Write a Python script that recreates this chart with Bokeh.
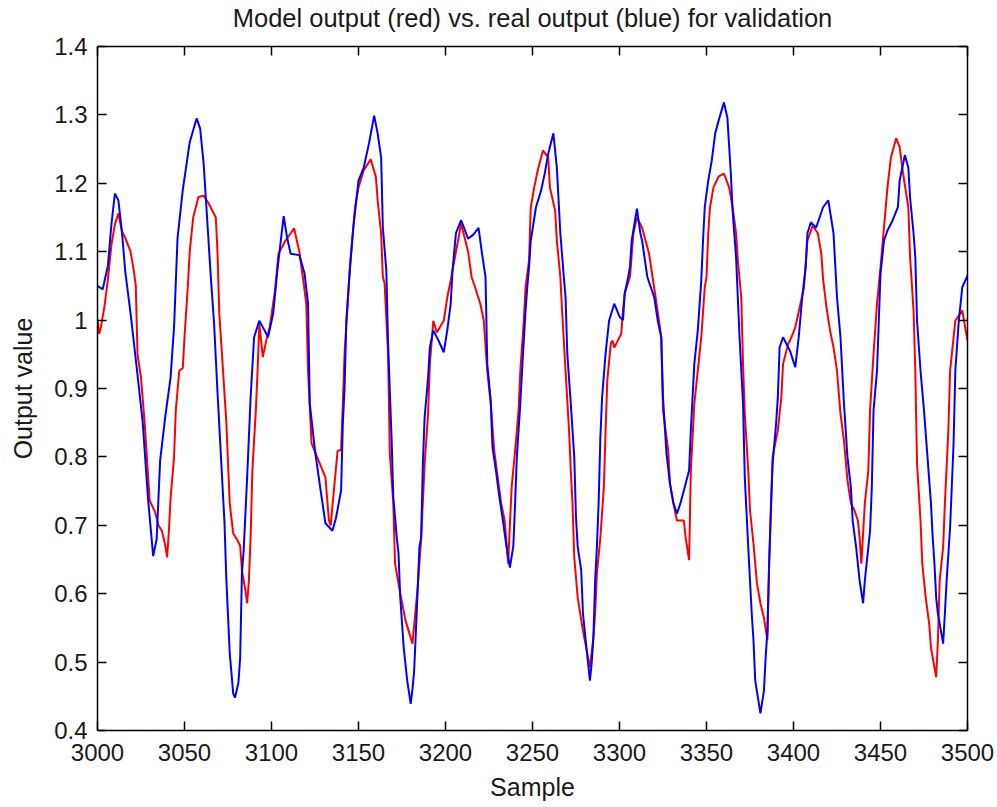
from bokeh.plotting import figure
from bokeh.models import FixedTicker, LinearAxis, Range1d, CustomLabelingPolicy
from bokeh.embed import file_html
from bokeh.resources import INLINE

# ---- data ----
real_samples = [3000, 3003, 3006, 3008, 3010, 3012, 3014, 3016, 3019, 3023, 3026, 3029, 3032, 3034, 3036, 3039, 3042, 3044, 3046, 3049, 3053, 3057, 3059, 3061, 3065, 3067, 3069, 3073, 3074, 3076, 3078, 3079, 3081, 3082, 3083, 3084, 3086, 3088, 3090, 3093, 3096, 3098, 3101, 3103, 3104, 3107, 3109, 3111, 3116, 3119, 3121, 3122, 3125, 3128, 3131, 3135, 3137, 3140, 3141, 3142, 3143, 3145, 3147, 3150, 3153, 3156, 3159, 3161, 3163, 3164, 3166, 3167, 3169, 3170, 3172, 3173, 3174, 3176, 3178, 3180, 3181, 3182, 3183, 3184, 3185, 3186, 3187, 3188, 3190, 3191, 3193, 3196, 3199, 3201, 3203, 3204, 3206, 3209, 3213, 3216, 3219, 3221, 3223, 3224, 3226, 3227, 3229, 3231, 3233, 3235, 3237, 3239, 3240, 3241, 3243, 3244, 3246, 3247, 3248, 3249, 3252, 3255, 3257, 3259, 3262, 3264, 3266, 3268, 3269, 3270, 3272, 3274, 3275, 3276, 3278, 3279, 3281, 3283, 3284, 3285, 3286, 3287, 3288, 3289, 3290, 3292, 3294, 3297, 3300, 3302, 3303, 3305, 3306, 3307, 3310, 3312, 3313, 3316, 3318, 3320, 3322, 3324, 3325, 3327, 3329, 3331, 3333, 3335, 3337, 3340, 3341, 3343, 3345, 3347, 3348, 3349, 3351, 3353, 3355, 3357, 3360, 3362, 3364, 3365, 3367, 3368, 3369, 3371, 3372, 3374, 3375, 3376, 3377, 3378, 3381, 3383, 3384, 3385, 3386, 3387, 3388, 3390, 3391, 3392, 3394, 3398, 3401, 3403, 3405, 3407, 3408, 3410, 3413, 3417, 3420, 3423, 3425, 3427, 3429, 3431, 3433, 3434, 3436, 3438, 3440, 3441, 3442, 3444, 3445, 3446, 3448, 3450, 3452, 3454, 3457, 3460, 3461, 3464, 3466, 3467, 3469, 3470, 3471, 3473, 3475, 3477, 3479, 3480, 3481, 3482, 3483, 3486, 3487, 3488, 3490, 3492, 3493, 3495, 3497, 3500]
real_values = [1.05, 1.045, 1.08, 1.14, 1.185, 1.175, 1.13, 1.07, 1.01, 0.92, 0.85, 0.74, 0.655, 0.68, 0.795, 0.86, 0.916, 0.99, 1.12, 1.19, 1.26, 1.295, 1.28, 1.229, 1.068, 0.995, 0.893, 0.703, 0.624, 0.513, 0.454, 0.448, 0.47, 0.507, 0.63, 0.663, 0.77, 0.887, 0.975, 0.999, 0.985, 0.975, 1.01, 1.063, 1.087, 1.152, 1.12, 1.097, 1.095, 1.068, 1.024, 0.878, 0.809, 0.755, 0.703, 0.692, 0.71, 0.751, 0.849, 0.901, 0.999, 1.072, 1.135, 1.204, 1.223, 1.258, 1.299, 1.273, 1.238, 1.135, 1.072, 0.966, 0.828, 0.741, 0.682, 0.659, 0.594, 0.521, 0.473, 0.439, 0.46, 0.488, 0.546, 0.605, 0.668, 0.682, 0.79, 0.858, 0.916, 0.96, 0.985, 0.97, 0.953, 0.985, 1.024, 1.072, 1.127, 1.146, 1.119, 1.125, 1.135, 1.097, 1.063, 0.936, 0.882, 0.814, 0.78, 0.741, 0.707, 0.67, 0.638, 0.67, 0.732, 0.80, 0.878, 0.926, 1.014, 1.048, 1.077, 1.116, 1.165, 1.19, 1.214, 1.243, 1.273, 1.223, 1.127, 1.063, 1.033, 0.951, 0.878, 0.80, 0.711, 0.668, 0.634, 0.571, 0.521, 0.473, 0.498, 0.536, 0.619, 0.668, 0.732, 0.828, 0.887, 0.951, 0.999, 1.024, 1.005, 1.0, 1.039, 1.063, 1.077, 1.116, 1.163, 1.127, 1.116, 1.063, 1.048, 1.033, 0.999, 0.975, 0.887, 0.805, 0.761, 0.732, 0.717, 0.732, 0.751, 0.78, 0.839, 0.936, 0.985, 1.058, 1.116, 1.165, 1.204, 1.233, 1.273, 1.292, 1.318, 1.296, 1.214, 1.16, 1.092, 1.033, 0.975, 0.878, 0.77, 0.668, 0.619, 0.571, 0.532, 0.473, 0.425, 0.458, 0.507, 0.546, 0.644, 0.722, 0.79, 0.849, 0.887, 0.96, 0.975, 0.955, 0.931, 0.975, 1.033, 1.077, 1.127, 1.143, 1.135, 1.165, 1.175, 1.127, 1.033, 0.975, 0.878, 0.80, 0.755, 0.707, 0.668, 0.619, 0.586, 0.619, 0.644, 0.692, 0.755, 0.868, 0.926, 1.068, 1.116, 1.131, 1.146, 1.165, 1.204, 1.241, 1.223, 1.179, 1.127, 1.092, 0.999, 0.926, 0.868, 0.80, 0.732, 0.682, 0.644, 0.594, 0.571, 0.527, 0.571, 0.619, 0.697, 0.82, 0.926, 0.999, 1.048, 1.065]

model_samples = [3000, 3001, 3002, 3004, 3006, 3008, 3010, 3012, 3014, 3016, 3019, 3021, 3022, 3023, 3025, 3027, 3030, 3033, 3035, 3037, 3039, 3040, 3041, 3042, 3044, 3045, 3047, 3049, 3050, 3052, 3053, 3055, 3058, 3061, 3064, 3068, 3069, 3070, 3074, 3076, 3078, 3080, 3082, 3083, 3085, 3086, 3087, 3088, 3089, 3091, 3092, 3093, 3095, 3097, 3099, 3102, 3104, 3108, 3113, 3116, 3118, 3120, 3121, 3123, 3127, 3131, 3133, 3134, 3136, 3138, 3140, 3141, 3142, 3144, 3145, 3148, 3150, 3153, 3157, 3160, 3161, 3163, 3164, 3165, 3167, 3168, 3170, 3171, 3174, 3177, 3181, 3184, 3186, 3188, 3190, 3191, 3193, 3195, 3199, 3201, 3203, 3206, 3209, 3213, 3215, 3217, 3220, 3222, 3224, 3226, 3228, 3230, 3232, 3234, 3236, 3238, 3240, 3242, 3243, 3245, 3246, 3248, 3249, 3251, 3253, 3256, 3259, 3260, 3263, 3264, 3266, 3267, 3269, 3271, 3272, 3273, 3274, 3276, 3279, 3283, 3285, 3286, 3287, 3289, 3291, 3292, 3293, 3295, 3296, 3297, 3299, 3301, 3302, 3303, 3306, 3308, 3310, 3313, 3315, 3317, 3319, 3321, 3324, 3325, 3328, 3329, 3331, 3333, 3337, 3338, 3340, 3341, 3343, 3345, 3347, 3349, 3350, 3351, 3352, 3354, 3357, 3360, 3363, 3365, 3367, 3368, 3370, 3371, 3372, 3374, 3375, 3377, 3378, 3379, 3381, 3383, 3385, 3386, 3388, 3391, 3393, 3394, 3397, 3398, 3401, 3404, 3406, 3408, 3411, 3414, 3416, 3417, 3419, 3421, 3423, 3425, 3427, 3429, 3431, 3433, 3435, 3437, 3438, 3439, 3441, 3443, 3444, 3446, 3448, 3450, 3452, 3454, 3456, 3459, 3461, 3463, 3466, 3467, 3469, 3470, 3471, 3473, 3474, 3476, 3478, 3479, 3482, 3483, 3484, 3486, 3487, 3489, 3490, 3493, 3497, 3500]
model_values = [1.0, 0.98, 0.99, 1.02, 1.06, 1.11, 1.14, 1.156, 1.13, 1.12, 1.10, 1.07, 1.05, 0.95, 0.916, 0.853, 0.736, 0.72, 0.70, 0.692, 0.67, 0.653, 0.69, 0.74, 0.80, 0.868, 0.926, 0.93, 0.975, 1.053, 1.10, 1.15, 1.18, 1.182, 1.17, 1.15, 1.097, 1.01, 0.853, 0.732, 0.688, 0.68, 0.67, 0.634, 0.605, 0.586, 0.619, 0.682, 0.78, 0.868, 0.926, 0.995, 0.946, 0.97, 0.99, 1.043, 1.097, 1.116, 1.134, 1.10, 1.063, 1.024, 0.926, 0.82, 0.795, 0.77, 0.707, 0.70, 0.755, 0.809, 0.81, 0.878, 0.951, 1.033, 1.077, 1.165, 1.194, 1.219, 1.235, 1.209, 1.175, 1.127, 1.063, 1.054, 0.951, 0.805, 0.732, 0.644, 0.60, 0.561, 0.527, 0.609, 0.68, 0.79, 0.863, 0.936, 0.999, 0.982, 0.999, 1.033, 1.058, 1.10, 1.141, 1.10, 1.063, 1.048, 1.024, 0.999, 0.926, 0.878, 0.809, 0.77, 0.732, 0.707, 0.644, 0.755, 0.809, 0.868, 0.926, 0.999, 1.048, 1.087, 1.165, 1.194, 1.219, 1.248, 1.238, 1.194, 1.16, 1.116, 1.063, 1.014, 0.926, 0.839, 0.78, 0.732, 0.653, 0.594, 0.546, 0.492, 0.536, 0.571, 0.63, 0.682, 0.755, 0.839, 0.912, 0.966, 0.97, 0.96, 0.97, 0.98, 1.014, 1.039, 1.063, 1.127, 1.15, 1.135, 1.116, 1.097, 1.063, 1.029, 0.975, 0.868, 0.809, 0.761, 0.732, 0.707, 0.707, 0.682, 0.649, 0.78, 0.878, 0.926, 0.975, 1.048, 1.063, 1.127, 1.165, 1.194, 1.21, 1.214, 1.194, 1.165, 1.127, 1.087, 1.033, 0.936, 0.863, 0.78, 0.722, 0.673, 0.644, 0.615, 0.586, 0.565, 0.532, 0.644, 0.80, 0.839, 0.887, 0.936, 0.966, 0.97, 0.989, 1.024, 1.048, 1.116, 1.138, 1.127, 1.097, 1.06, 1.018, 0.985, 0.96, 0.926, 0.863, 0.824, 0.766, 0.732, 0.722, 0.707, 0.682, 0.644, 0.732, 0.78, 0.868, 0.951, 1.024, 1.077, 1.135, 1.194, 1.238, 1.266, 1.253, 1.214, 1.165, 1.092, 1.014, 0.926, 0.79, 0.707, 0.644, 0.594, 0.556, 0.521, 0.478, 0.532, 0.619, 0.668, 0.732, 0.839, 0.926, 0.999, 1.014, 0.97]

x_ticks = [3000, 3050, 3100, 3150, 3200, 3250, 3300, 3350, 3400, 3450, 3500]
x_tick_labels = ["3000", "3050", "3100", "3150", "3200", "3250", "3300", "3350", "3400", "3450", "3500"]
y_ticks = [0.4, 0.5, 0.6, 0.7, 0.8, 0.9, 1.0, 1.1, 1.2, 1.3, 1.4]
y_tick_labels = ["0.4", "0.5", "0.6", "0.7", "0.8", "0.9", "1", "1.1", "1.2", "1.3", "1.4"]

title_text = "Model output (red) vs. real output (blue) for validation"
x_label = "Sample"
y_label = "Output value"

FONT = "Liberation Sans"
TXT = "#1a1a1a"

p = figure(width=997, height=807, output_backend="svg", toolbar_location=None,
           x_range=Range1d(3000, 3500), y_range=Range1d(0.4, 1.4),
           min_border_left=97, min_border_right=30, min_border_top=46, min_border_bottom=77,
           x_axis_label=x_label, y_axis_label=y_label)

p.background_fill_color = "white"
p.border_fill_color = "white"
p.outline_line_color = None
p.xgrid.visible = False
p.ygrid.visible = False

p.line(model_samples, model_values, line_color="#ff0000", line_width=2)
p.line(real_samples, real_values, line_color="#0000ff", line_width=2)

def style_axis(ax, ticks, labels, show_labels):
    ax.ticker = FixedTicker(ticks=ticks)
    ax.minor_tick_line_color = None
    ax.major_tick_in = 9
    ax.major_tick_out = 0
    ax.major_tick_line_color = "black"
    ax.major_tick_line_width = 1.5
    ax.axis_line_color = "black"
    ax.axis_line_width = 1.5
    ax.major_label_text_font = FONT
    ax.major_label_text_color = TXT
    ax.axis_label_text_font = FONT
    ax.axis_label_text_font_style = "normal"
    ax.axis_label_text_color = TXT
    ax.axis_label_text_font_size = "25px"
    if show_labels:
        ax.major_label_overrides = dict(zip(ticks, labels))
        ax.major_label_text_font_size = "24px"
    else:
        # box side: ticks only, no tick labels drawn
        ax.major_label_policy = CustomLabelingPolicy(
            code="for (const i of indices) { indices.unset(i) }")
        ax.major_label_text_font_size = "0px"
        ax.major_label_standoff = 0
        ax.axis_label_standoff = 0

style_axis(p.xaxis[0], x_ticks, x_tick_labels, True)
style_axis(p.yaxis[0], y_ticks, y_tick_labels, True)
p.xaxis[0].major_label_standoff = 13
p.xaxis[0].axis_label_standoff = 9
p.yaxis[0].major_label_standoff = 10
p.yaxis[0].axis_label_standoff = 14

# top side of the box carries the chart title (centred over the plot frame)
top_ax = LinearAxis(axis_label=title_text)
right_ax = LinearAxis()
style_axis(top_ax, x_ticks, x_tick_labels, False)
style_axis(right_ax, y_ticks, y_tick_labels, False)
top_ax.axis_label_text_font_size = "25.5px"
top_ax.axis_label_text_line_height = 1.0
top_ax.axis_label_standoff = 15
p.add_layout(top_ax, "above")
p.add_layout(right_ax, "right")

open("out.html", "w").write(file_html(p, INLINE))
